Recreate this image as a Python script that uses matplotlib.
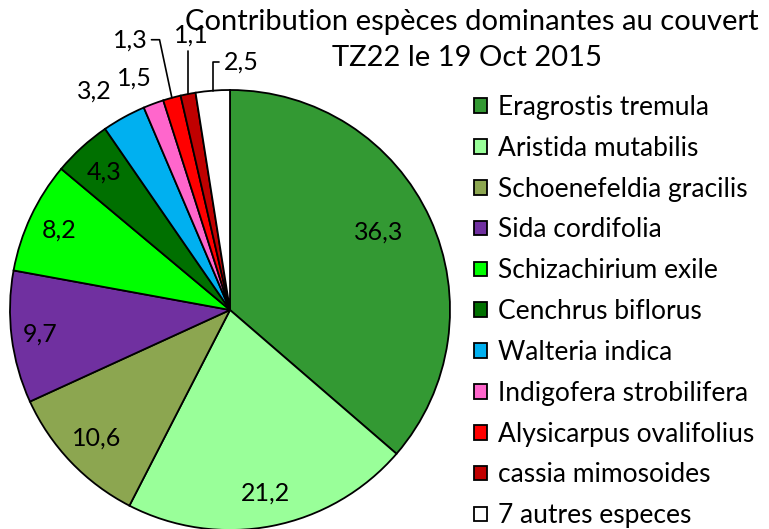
import matplotlib
matplotlib.use('Agg')
import matplotlib.pyplot as plt
import numpy as np

species = ['Eragrostis tremula', 'Aristida mutabilis', 'Schoenefeldia gracilis',
           'Sida cordifolia', 'Schizachirium exile', 'Cenchrus biflorus',
           'Walteria indica', 'Indigofera strobilifera', 'Alysicarpus ovalifolius',
           'cassia mimosoides', '7 autres especes']
values = [36.3, 21.2, 10.6, 9.7, 8.2, 4.3, 3.2, 1.5, 1.3, 1.1, 2.5]
value_labels = ['36,3', '21,2', '10,6', '9,7', '8,2', '4,3', '3,2', '1,5', '1,3', '1,1', '2,5']
colors = ['#339933', '#99FF99', '#8CA650', '#7030A0', '#00FF00', '#007000',
          '#00B0F0', '#FF66CC', '#FF0000', '#C00000', '#FFFFFF']
title_lines = ['Contribution espèces dominantes au couvert', 'TZ22 le 19 Oct 2015']

# label placement (radius in pie units, angle nudge in degrees ccw, leader line angle)
label_dist = [0.76, 0.85, 0.84, 0.87, 0.86, 0.85, 1.17, 1.14, 1.31, 1.26, 1.13]
label_nudge = [3, 0, 0, 0, 0, 0, 3, 2, 5, -3, -7]
leader_angle = [None] * 8 + [102, 90, 90]

plt.rcParams['font.family'] = ['Lato', 'DejaVu Sans']
fs = 19

fig = plt.figure(figsize=(7.69, 5.29), dpi=100)
ax = fig.add_axes([10 / 769, -1 / 529, 440 / 769, 440 / 529])
wedges, _ = ax.pie(values, colors=colors, startangle=90, counterclock=False,
                   wedgeprops=dict(edgecolor='black', linewidth=1.3))
ax.set_xlim(-1, 1)
ax.set_ylim(-1, 1)
ax.set_aspect('equal')
ax.axis('off')

for w, lab, d, nud, la in zip(wedges, value_labels, label_dist, label_nudge, leader_angle):
    mid = np.deg2rad((w.theta1 + w.theta2) / 2)
    tx = d * np.cos(mid + np.deg2rad(nud))
    ty = d * np.sin(mid + np.deg2rad(nud))
    if la is not None:
        px, py = np.cos(mid), np.sin(mid)
        ax.annotate(lab, xy=(px, py), xytext=(tx, ty), ha='center', va='center',
                    fontsize=18, annotation_clip=False,
                    arrowprops=dict(arrowstyle='-', color='black', lw=1.2,
                                    connectionstyle=f'angle,angleA=0,angleB={la},rad=0',
                                    shrinkA=1, shrinkB=0))
    else:
        ax.text(tx, ty, lab, ha='center', va='center', fontsize=18, clip_on=False)

fig.text(472 / 769, 1 - 22 / 529, title_lines[0], ha='center', va='center', fontsize=21)
fig.text(467 / 769, 1 - 58 / 529, title_lines[1], ha='center', va='center', fontsize=21)

fig.legend(wedges, species, loc='upper left', bbox_to_anchor=(474 / 769, 1 - 95 / 529),
           frameon=False, fontsize=fs, handlelength=0.48, handleheight=0.48,
           handletextpad=0.42, labelspacing=0.60, borderaxespad=0, borderpad=0)

fig.savefig('out.png', dpi=100)
